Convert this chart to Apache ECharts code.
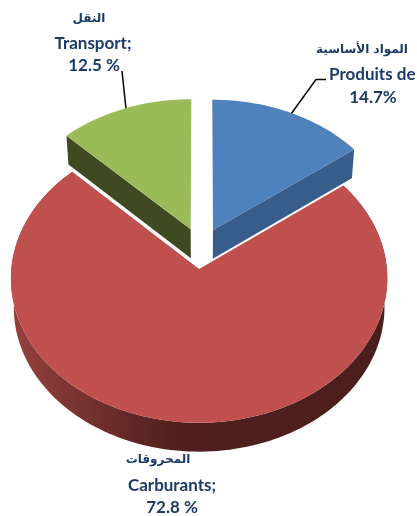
<!DOCTYPE html>
<html>
<head>
<meta charset="utf-8">
<style>
  html, body { margin: 0; padding: 0; background: #fff; }
  #chart { width: 417px; height: 516px; }
</style>
<script src="https://cdn.jsdelivr.net/npm/echarts@6/dist/echarts.min.js"></script>
</head>
<body>
<div id="chart"></div>
<script>
const namesAr = ['المواد الأساسية', 'المحروقات', 'النقل']
const namesFr = ['Produits de', 'Carburants;', 'Transport;']
const values = [14.7, 72.8, 12.5]
const valueLabels = ['14.7%', '72.8 %', '12.5 %']

const topColors = ['#4f81bd', '#c0504d', '#9bbb59']
const wallColors = [
  '#385d8a',
  new echarts.graphic.LinearGradient(0, 0, 1, 0, [
    { offset: 0, color: '#96413e' },
    { offset: 0.43, color: '#4f201d' },
    { offset: 1, color: '#4a1e1c' }
  ]),
  '#3f4a22'
]
// which slices show their cut edge and which their outer rim
const wallTypes = ['cutRight', 'rim', 'cutLeft']

// 3D look of the pie: perspective, explode distance, wall height
const PERSPECTIVE = 0.065
const EXPLODE = 0.146
const WALL_DROP = 0.205
const WALL_SHRINK = 0.985

const total = values.reduce((a, b) => a + b, 0)
let running = 0
const sliceData = values.map((v) => {
  const start = (running / total) * Math.PI * 2
  running += v
  return [start, (running / total) * Math.PI * 2]
})

// disc coordinates to axis coordinates, the far side gets squeezed
const project = (x, y) => {
  const d = 1 + PERSPECTIVE * y
  return [x / d, y / d]
}

const renderSlice = (params, api) => {
  const i = params.dataIndex
  const start = api.value(0)
  const end = api.value(1)
  const mid = (start + end) / 2
  const cx = Math.sin(mid) * EXPLODE
  const cy = Math.cos(mid) * EXPLODE

  const arc = []
  const steps = Math.ceil((end - start) / 0.03)
  for (let s = 0; s <= steps; s++) {
    const a = start + ((end - start) * s) / steps
    arc.push(project(cx + Math.sin(a), cy + Math.cos(a)))
  }
  const apex = project(cx, cy)
  const low = (p) => api.coord([p[0] * WALL_SHRINK, p[1] - WALL_DROP])
  const high = (p) => api.coord(p)

  let wall
  if (wallTypes[i] === 'rim') {
    wall = arc.map(high).concat(arc.slice().reverse().map(low))
  } else {
    const corner = wallTypes[i] === 'cutRight' ? arc[arc.length - 1] : arc[0]
    wall = [high(apex), high(corner), low(corner), low(apex)]
  }

  return {
    type: 'group',
    children: [
      { type: 'polygon', shape: { points: wall }, style: { fill: wallColors[i] } },
      {
        type: 'polygon',
        shape: { points: [apex].concat(arc).map(high) },
        style: { fill: topColors[i] }
      }
    ]
  }
}

const textColor = '#1b3a66'
const labelText = (text, x, y, font, align) => ({
  type: 'text',
  x,
  y,
  silent: true,
  style: {
    text,
    fill: textColor,
    font,
    align: align || 'center',
    verticalAlign: 'middle'
  }
})
const latinFont = 'bold 17px Lato, "Open Sans", sans-serif'
const arabicFont = 'bold 12px "DejaVu Sans", sans-serif'

const chart = echarts.init(document.getElementById('chart'), null, { renderer: 'canvas' })
chart.setOption({
  animation: false,
  backgroundColor: '#ffffff',
  grid: { left: 5.7, top: 79, width: 390.6, height: 394.8 },
  xAxis: { type: 'value', min: -1.05, max: 1.05, show: false },
  yAxis: { type: 'value', min: -1.6, max: 1.2, show: false },
  series: [
    {
      type: 'custom',
      coordinateSystem: 'cartesian2d',
      silent: true,
      clip: false,
      renderItem: renderSlice,
      encode: { x: 0, y: 1 },
      data: sliceData
    }
  ],
  graphic: [
    labelText(namesAr[2], 89, 19, arabicFont),
    labelText(namesFr[2], 93, 44, latinFont),
    labelText(valueLabels[2], 94, 66, latinFont),
    labelText(namesAr[0], 362, 50, arabicFont),
    labelText(namesFr[0], 329, 75, latinFont, 'left'),
    labelText(valueLabels[0], 373, 98, latinFont),
    labelText(namesAr[1], 158, 460, arabicFont),
    labelText(namesFr[1], 172, 486, latinFont),
    labelText(valueLabels[1], 172, 508, latinFont),
    {
      type: 'polyline',
      silent: true,
      shape: { points: [[122, 71], [126, 109]] },
      style: { stroke: '#000', lineWidth: 1.5, fill: null }
    },
    {
      type: 'polyline',
      silent: true,
      shape: { points: [[326, 79.5], [316, 79.5], [291, 114]] },
      style: { stroke: '#000', lineWidth: 1.5, fill: null }
    }
  ]
})
</script>
</body>
</html>
